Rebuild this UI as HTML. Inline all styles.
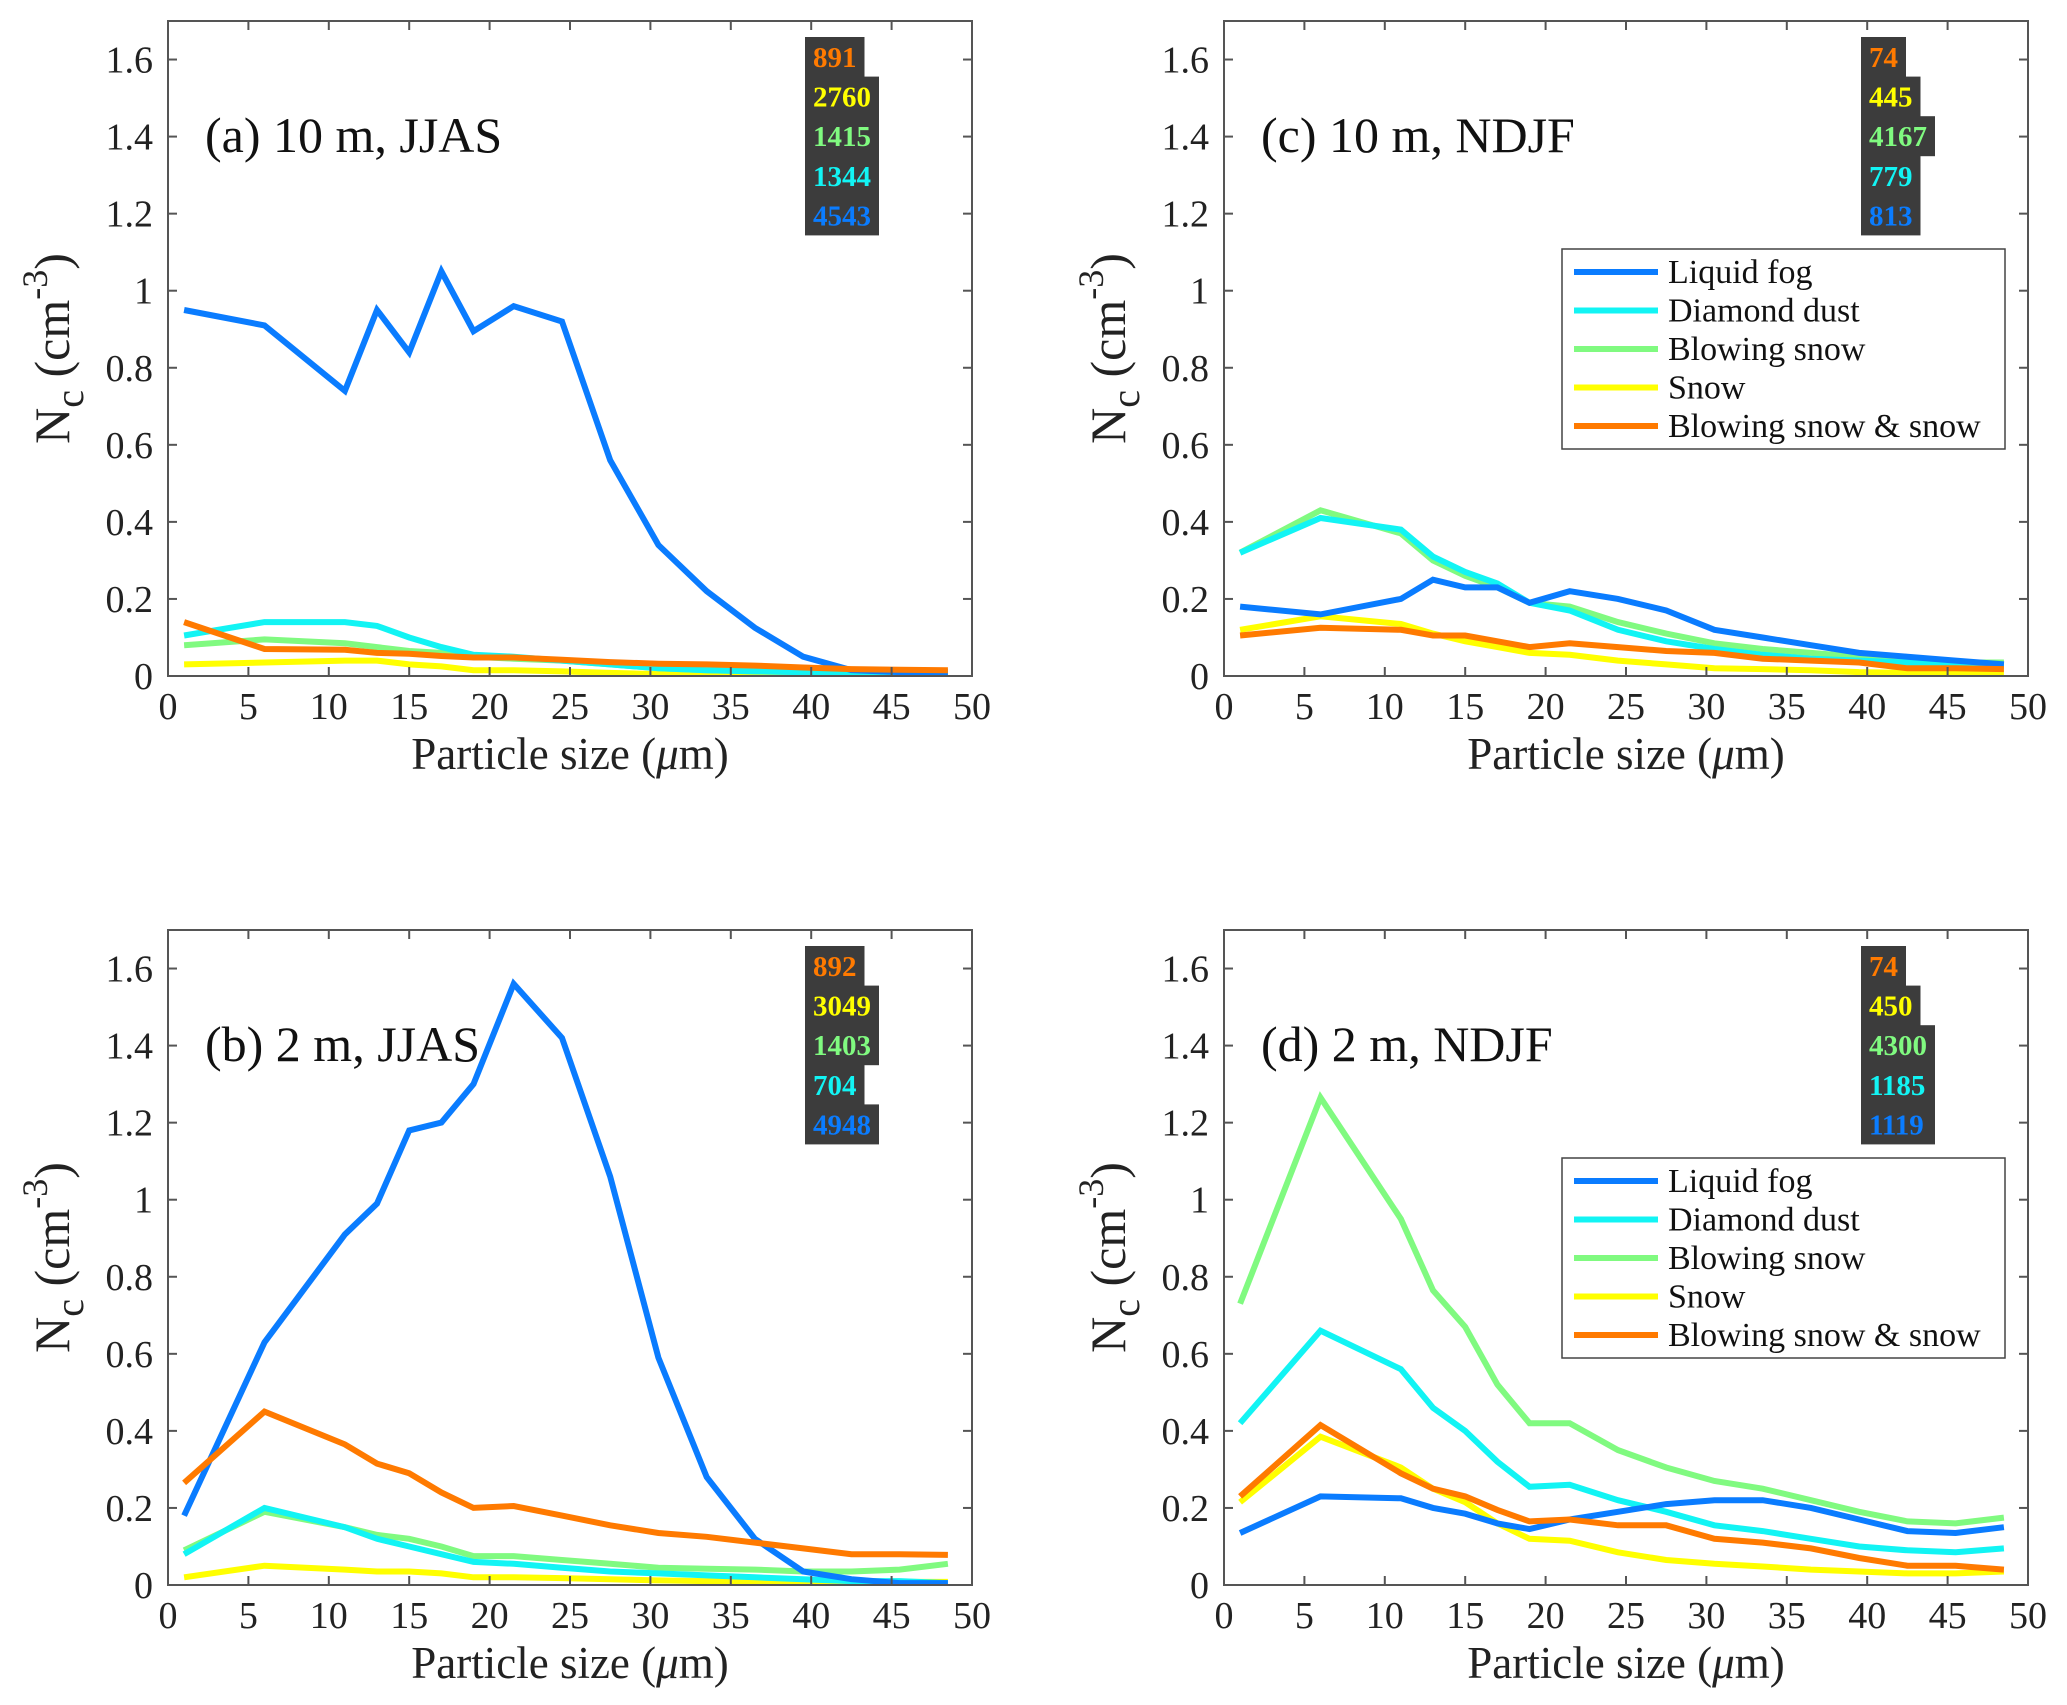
<!DOCTYPE html>
<html><head><meta charset="utf-8">
<style>
html,body{margin:0;padding:0;background:#fff;}
svg, svg text{font-family:"Liberation Serif","Times New Roman",serif;}
svg{display:block;}
</style></head>
<body>
<svg id="fig" width="2067" height="1705" viewBox="0 0 2067 1705" font-family="'Liberation Serif', 'Times New Roman', serif"></svg>
<script>
const sizes = [1, 6, 11, 13, 15, 17, 19, 21.5, 24.5, 27.5, 30.5, 33.5, 36.5, 39.5, 42.5, 45.5, 48.5];
const xTicks = [0, 5, 10, 15, 20, 25, 30, 35, 40, 45, 50];
const yTicks = [0, 0.2, 0.4, 0.6, 0.8, 1, 1.2, 1.4, 1.6];
const yTickLabels = ["0", "0.2", "0.4", "0.6", "0.8", "1", "1.2", "1.4", "1.6"];
const seriesNames = ["Liquid fog", "Diamond dust", "Blowing snow", "Snow", "Blowing snow & snow"];
const seriesColors = ["#0a7cff", "#12f4f4", "#80fa80", "#ffff00", "#ff7a00"];

const aFog   = [0.95,0.91,0.74,0.95,0.84,1.05,0.895,0.96,0.92,0.56,0.34,0.22,0.125,0.05,0.015,0.01,0.01];
const aDust  = [0.105,0.14,0.14,0.13,0.10,0.075,0.055,0.05,0.04,0.03,0.02,0.015,0.012,0.01,0.008,0.006,0.005];
const aBlow  = [0.08,0.095,0.085,0.075,0.065,0.06,0.05,0.045,0.04,0.03,0.02,0.015,0.012,0.01,0.01,0.01,0.01];
const aSnow  = [0.03,0.035,0.04,0.04,0.03,0.025,0.015,0.015,0.012,0.008,0.005,0.005,0.005,0.003,0.003,0.003,0.003];
const aBoth  = [0.14,0.07,0.068,0.06,0.058,0.052,0.048,0.048,0.042,0.036,0.032,0.03,0.027,0.022,0.018,0.016,0.015];

const bFog   = [0.18,0.63,0.91,0.99,1.18,1.20,1.30,1.56,1.42,1.06,0.59,0.28,0.12,0.035,0.015,0.005,0.005];
const bDust  = [0.08,0.20,0.15,0.12,0.10,0.08,0.06,0.055,0.045,0.035,0.03,0.025,0.02,0.015,0.01,0.01,0.005];
const bBlow  = [0.09,0.19,0.15,0.13,0.12,0.10,0.075,0.075,0.065,0.055,0.045,0.042,0.04,0.035,0.035,0.04,0.055];
const bSnow  = [0.02,0.05,0.04,0.035,0.035,0.03,0.02,0.02,0.018,0.015,0.012,0.01,0.01,0.008,0.008,0.008,0.008];
const bBoth  = [0.265,0.45,0.365,0.315,0.29,0.24,0.20,0.205,0.18,0.155,0.135,0.125,0.11,0.095,0.08,0.08,0.078];

const cFog   = [0.18,0.16,0.20,0.25,0.23,0.23,0.19,0.22,0.20,0.17,0.12,0.10,0.08,0.06,0.05,0.04,0.03];
const cDust  = [0.32,0.41,0.38,0.31,0.27,0.24,0.19,0.17,0.12,0.09,0.07,0.055,0.045,0.04,0.035,0.03,0.025];
const cBlow  = [0.32,0.43,0.37,0.30,0.26,0.23,0.19,0.18,0.14,0.11,0.085,0.07,0.06,0.05,0.04,0.035,0.035];
const cSnow  = [0.12,0.155,0.135,0.11,0.09,0.075,0.06,0.055,0.04,0.03,0.02,0.018,0.015,0.01,0.008,0.008,0.008];
const cBoth  = [0.105,0.125,0.12,0.105,0.105,0.09,0.075,0.085,0.075,0.065,0.06,0.045,0.04,0.035,0.02,0.02,0.018];

const dFog   = [0.135,0.23,0.225,0.20,0.185,0.16,0.145,0.17,0.19,0.21,0.22,0.22,0.20,0.17,0.14,0.135,0.15];
const dDust  = [0.42,0.66,0.56,0.46,0.40,0.32,0.255,0.26,0.22,0.19,0.155,0.14,0.12,0.10,0.09,0.085,0.095];
const dBlow  = [0.73,1.265,0.95,0.765,0.67,0.52,0.42,0.42,0.35,0.305,0.27,0.25,0.22,0.19,0.165,0.16,0.175];
const dSnow  = [0.215,0.385,0.305,0.25,0.215,0.16,0.12,0.115,0.085,0.065,0.055,0.048,0.04,0.035,0.03,0.03,0.035];
const dBoth  = [0.23,0.415,0.29,0.25,0.23,0.195,0.165,0.17,0.155,0.155,0.12,0.11,0.095,0.07,0.05,0.05,0.04];

const aCounts = [891, 2760, 1415, 1344, 4543];
const bCounts = [892, 3049, 1403, 704, 4948];
const cCounts = [74, 445, 4167, 779, 813];
const dCounts = [74, 450, 4300, 1185, 1119];

const panels = [
  {id:"a", title:"(a) 10 m, JJAS", left:168, top:21, series:[aFog,aDust,aBlow,aSnow,aBoth], counts:aCounts, legend:false},
  {id:"c", title:"(c) 10 m, NDJF", left:1224, top:21, series:[cFog,cDust,cBlow,cSnow,cBoth], counts:cCounts, legend:true},
  {id:"b", title:"(b) 2 m, JJAS", left:168, top:930, series:[bFog,bDust,bBlow,bSnow,bBoth], counts:bCounts, legend:false},
  {id:"d", title:"(d) 2 m, NDJF", left:1224, top:930, series:[dFog,dDust,dBlow,dSnow,dBoth], counts:dCounts, legend:true}
];
const W = 804, H = 655, XMAX = 50, YMAX = 1.7;
const FONT = "'Liberation Serif', 'Times New Roman', serif";
const NS = "http://www.w3.org/2000/svg";
const svg = document.getElementById("fig");
function mk(tag, attrs, parent){ const e=document.createElementNS(NS,tag); for(const k in attrs) e.setAttribute(k,attrs[k]); if(tag==="text") e.setAttribute("font-family",FONT); (parent||svg).appendChild(e); return e; }

panels.forEach(p=>{
  const g = mk("g",{});
  
  
  const xs = v => p.left + v/XMAX*W;
  const ys = v => p.top + H - v/YMAX*H;
  const cid = "clip"+p.id;
  const cp = mk("clipPath",{id:cid},g); mk("rect",{x:p.left,y:p.top,width:W,height:H},cp);
  const order = [3,2,1,0,4];
  order.forEach(i=>{
    const pts = sizes.map((s,k)=>xs(s).toFixed(1)+","+ys(p.series[i][k]).toFixed(1)).join(" ");
    const pl = mk("polyline",{points:pts,fill:"none",stroke:seriesColors[i],"stroke-width":6,"stroke-linejoin":"miter","clip-path":"url(#"+cid+")"},g);
    
    
  });
  const box = mk("rect",{x:p.left,y:p.top,width:W,height:H,fill:"none",stroke:"#555","stroke-width":2},g);
  
  
  xTicks.forEach(t=>{
    const x = xs(t);
    mk("line",{x1:x,y1:p.top+H,x2:x,y2:p.top+H-9,stroke:"#555","stroke-width":2},g);
    mk("line",{x1:x,y1:p.top,x2:x,y2:p.top+9,stroke:"#555","stroke-width":2},g);
    const tx = mk("text",{x:x,y:p.top+H+43,"font-size":38,"text-anchor":"middle",fill:"#222"},g);
    tx.textContent = t;
    
    
  });
  yTicks.forEach((t,i)=>{
    const y = ys(t);
    mk("line",{x1:p.left,y1:y,x2:p.left+9,y2:y,stroke:"#555","stroke-width":2},g);
    mk("line",{x1:p.left+W,y1:y,x2:p.left+W-9,y2:y,stroke:"#555","stroke-width":2},g);
    const ty = mk("text",{x:p.left-15,y:y+13,"font-size":38,"text-anchor":"end",fill:"#222"},g);
    ty.textContent = yTickLabels[i];
    
    
  });
  const xl = mk("text",{x:p.left+W/2,y:p.top+H+93,"font-size":45,"text-anchor":"middle",fill:"#222"},g);
  xl.innerHTML = 'Particle size (<tspan font-style="italic">μ</tspan>m)';
  
  
  const yl = mk("text",{transform:"translate("+(p.left-99)+","+(p.top+H/2)+") rotate(-90)","font-size":50,"text-anchor":"middle",fill:"#222"},g);
  yl.innerHTML = 'N<tspan dy="14" font-size="40">c</tspan><tspan dy="-14"> (cm</tspan><tspan dy="-22" font-size="36">-3</tspan><tspan dy="22">)</tspan>';
  
  
  const tt = mk("text",{x:p.left+37,y:p.top+131,"font-size":50,fill:"#111"},g);
  tt.textContent = p.title;
  
  
  const cOrder = [4,3,2,1,0];
  const cg = mk("g",{},g);
  
  
  const bx = p.left+637, by0 = p.top+16;
  p.counts.forEach((c,r)=>{
    const s = String(c);
    const w = 14.5*s.length+16;
    mk("rect",{x:bx,y:by0+r*39.6,width:w,height:40,fill:"#3c3c3c"},cg);
    const ct = mk("text",{x:bx+8,y:by0+r*39.6+30,"font-size":29,"font-weight":"bold",fill:seriesColors[cOrder[r]]},cg);
    ct.textContent = s;
    
    
  });
  if(p.legend){
    const lg = mk("g",{},g);
    
    
    const lx = p.left+338, ly = p.top+228;
    mk("rect",{x:lx,y:ly,width:443,height:200,fill:"#fff",stroke:"#444","stroke-width":1.5},lg);
    seriesNames.forEach((n,i)=>{
      const yy = ly+23+i*38.5;
      mk("line",{x1:lx+12,y1:yy,x2:lx+96,y2:yy,stroke:seriesColors[i],"stroke-width":6},lg);
      const lt = mk("text",{x:lx+106,y:yy+11,"font-size":34,fill:"#111"},lg);
      lt.textContent = n;
      
      
    });
  }
});
</script>
</body></html>
